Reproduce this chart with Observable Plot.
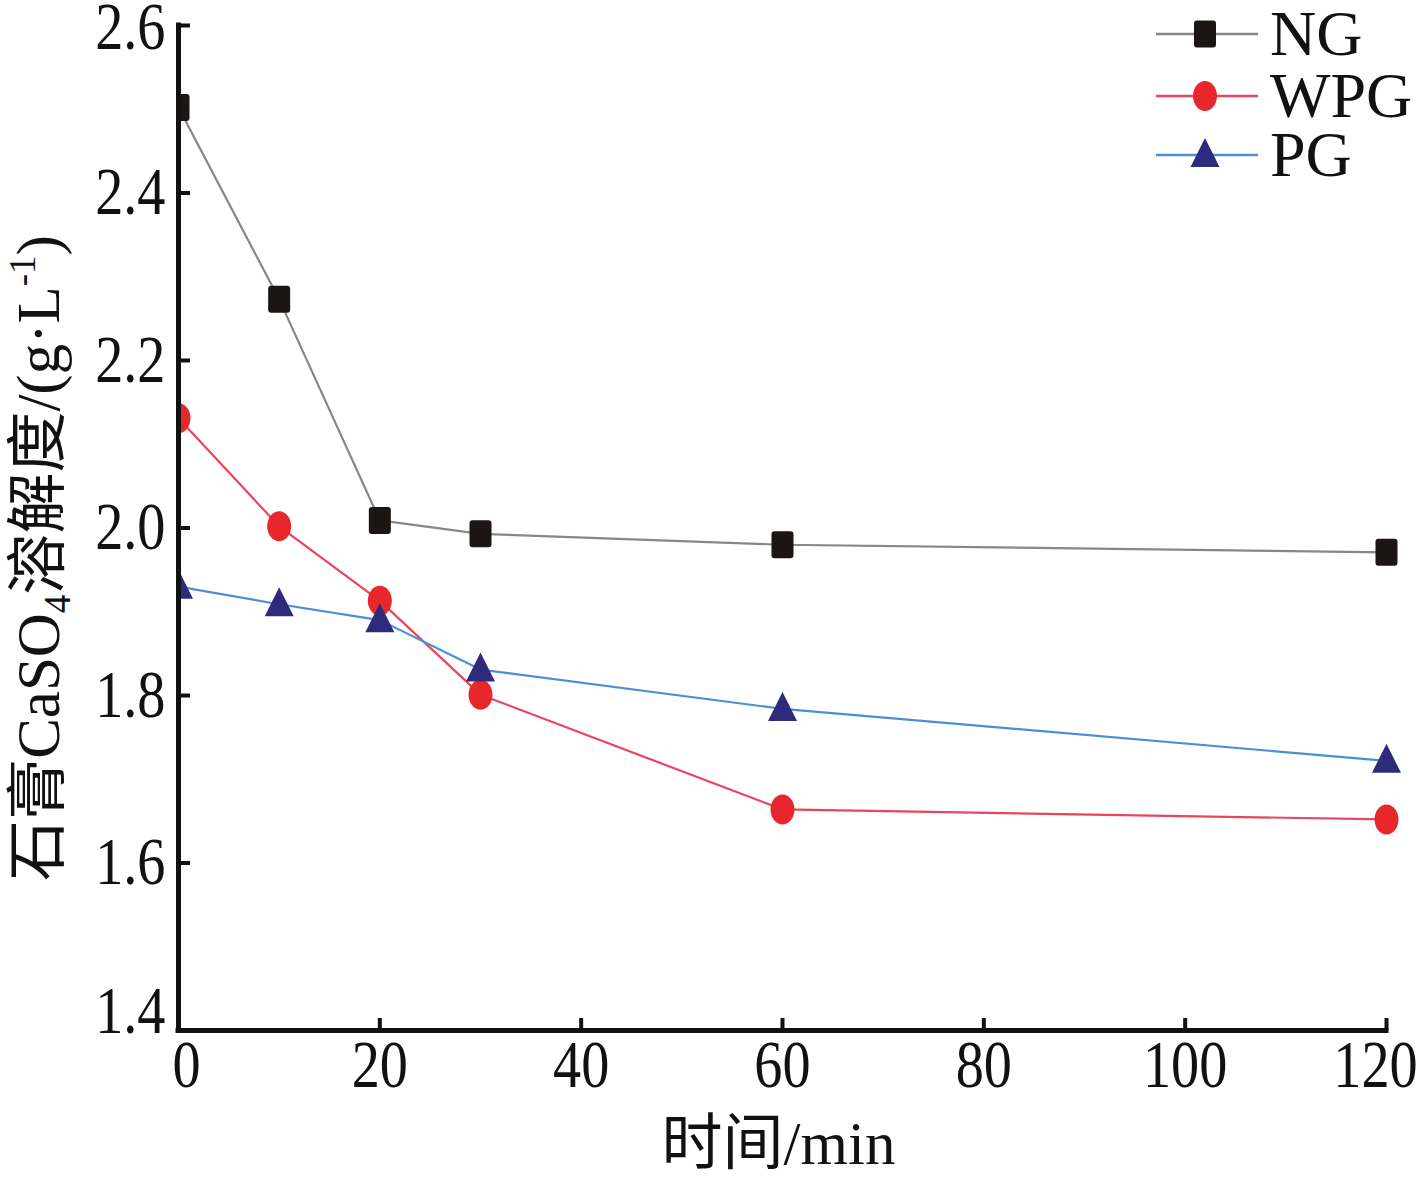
<!DOCTYPE html>
<html><head><meta charset="utf-8">
<script src="https://cdn.jsdelivr.net/npm/d3@7"></script>
<script src="https://cdn.jsdelivr.net/npm/@observablehq/plot@0.6"></script>
<style>
html,body{margin:0;padding:0;background:#fff;}
#wrap{position:relative;width:1417px;height:1181px;}
.row{position:absolute;left:1155px;height:56px;display:flex;align-items:center;}
.row span{display:block;height:56px;overflow:visible;font-family:"Liberation Serif","Times New Roman",serif;font-size:64px;color:#111;margin-left:11px;line-height:56px;}
</style></head><body><div id="wrap"></div>
<script>
// ---- data ----
const times = [0, 10, 20, 30, 60, 120];
const ng  = [2.502, 2.273, 2.009, 1.993, 1.980, 1.971];
const wpg = [2.131, 2.002, 1.913, 1.801, 1.664, 1.652];
const pg  = [1.930, 1.909, 1.890, 1.831, 1.784, 1.722];
const seriesNames = ["NG", "WPG", "PG"];
const seriesValues = [ng, wpg, pg];
const xTicks = [0, 20, 40, 60, 80, 100, 120];
const yTicks = [1.4, 1.6, 1.8, 2.0, 2.2, 2.4, 2.6];
const xTitle = "时间/min";
const yTitle = "石膏CaSO4溶解度/(g·L-1)";

// ---- styles ----
const lineColors = {NG: "#878787", WPG: "#e9455c", PG: "#4a8fd2"};
const markColors = {NG: "#1b1613", WPG: "#e8272c", PG: "#2e2a7c"};
const serif = '"Liberation Serif","Times New Roman","Noto Sans CJK SC",serif';

const squareSym = {draw(ctx) {
  const w = 11, h = 13.5, r = 3;
  ctx.moveTo(-w + r, -h); ctx.lineTo(w - r, -h); ctx.arcTo(w, -h, w, -h + r, r);
  ctx.lineTo(w, h - r); ctx.arcTo(w, h, w - r, h, r);
  ctx.lineTo(-w + r, h); ctx.arcTo(-w, h, -w, h - r, r);
  ctx.lineTo(-w, -h + r); ctx.arcTo(-w, -h, -w + r, -h, r); ctx.closePath();
}};
const ellipseSym = {draw(ctx) {
  const rx = 12, ry = 15, k = 0.5523;
  ctx.moveTo(rx, 0);
  ctx.bezierCurveTo(rx, ry * k, rx * k, ry, 0, ry);
  ctx.bezierCurveTo(-rx * k, ry, -rx, ry * k, -rx, 0);
  ctx.bezierCurveTo(-rx, -ry * k, -rx * k, -ry, 0, -ry);
  ctx.bezierCurveTo(rx * k, -ry, rx, -ry * k, rx, 0);
  ctx.closePath();
}};
const triangleSym = {draw(ctx) {
  ctx.moveTo(0, -17); ctx.lineTo(14.5, 12); ctx.lineTo(-14.5, 12); ctx.closePath();
}};
const symbols = {NG: squareSym, WPG: ellipseSym, PG: triangleSym};

const rows = seriesNames.flatMap((s, i) => times.map((t, j) => ({series: s, time: t, value: seriesValues[i][j]})));

const lineMarks = seriesNames.map(s => Plot.line(rows.filter(d => d.series === s), {x: "time", y: "value", stroke: lineColors[s], strokeWidth: 2.2}));
const dotMarks = seriesNames.map(s => Plot.dot(rows.filter(d => d.series === s), {x: "time", y: "value", symbol: symbols[s], r: 10, fill: markColors[s], stroke: "none"}));

const chart = Plot.plot({
  width: 1417, height: 1181,
  marginLeft: 178, marginRight: 31, marginTop: 25, marginBottom: 151,
  x: {domain: [0, 120]},
  y: {domain: [1.4, 2.6]},
  style: {fontFamily: serif, color: "#111", background: "white"},
  marks: [
    Plot.axisX(xTicks, {tickSize: 12, dy: -12, tickPadding: 9, fontSize: 67, strokeWidth: 4, label: null, tickFormat: d => String(d)}),
    Plot.axisY(yTicks, {tickSize: 12, dx: 12, tickPadding: 13, fontSize: 67, strokeWidth: 4, label: null, tickFormat: d3.format(".1f")}),
    ...lineMarks,
    ...dotMarks,
    Plot.ruleX([0], {stroke: "#111", strokeWidth: 5, strokeLinecap: "square"}),
    Plot.ruleY([1.4], {stroke: "#111", strokeWidth: 5, strokeLinecap: "square"}),
    Plot.text([xTitle], {frameAnchor: "bottom", textAnchor: "middle", dx: -4, dy: 133, fontSize: 61, fill: "#111"}),
    Plot.text([yTitle], {frameAnchor: "left", textAnchor: "middle", rotate: -90, dx: -139, dy: 30, fontSize: 61, fill: "#111"})
  ]
});

const svg = d3.select(chart);

// condensed tick labels, as in the original
svg.selectAll('g[aria-label="x-axis tick label"] text, g[aria-label="y-axis tick label"] text').each(function() {
  const sel = d3.select(this);
  let tr = (sel.attr("transform") || "") + " scale(0.84,1)";
  const t = this.textContent;
  if (t === "0") tr = "translate(8,0) " + tr;
  if (t === "120") tr = "translate(-11,0) " + tr;
  if (t === "1.4") tr = "translate(0,-19) " + tr;
  if (t === "2.6") tr = "translate(0,2) " + tr;
  sel.attr("transform", tr);
});

// clip markers at the left axis (as in the original)
const x0 = chart.scale("x").apply(0);
const defs = svg.insert("defs", ":first-child");
defs.append("clipPath").attr("id", "clipLeft").append("rect")
  .attr("x", x0).attr("y", 0).attr("width", 1417 - x0).attr("height", 1181);
svg.selectAll('g[aria-label="dot"]').attr("clip-path", "url(#clipLeft)");

// subscript / superscript in the y title
svg.selectAll("text").each(function() {
  if (this.textContent === yTitle) {
    this.innerHTML = '石膏CaSO<tspan font-size="37" dy="11">4</tspan><tspan dy="-11">溶解度/(g·L</tspan><tspan font-size="37" dy="-24">-1</tspan><tspan dy="24">)</tspan>';
  }
});

const wrap = document.getElementById("wrap");
wrap.appendChild(chart);

// legend
const legendCenters = [34, 96, 155];
seriesNames.forEach((s, i) => {
  const row = document.createElement("div");
  row.className = "row";
  row.style.top = (legendCenters[i] - 28) + "px";
  const sw = d3.create("svg").attr("width", 104).attr("height", 56);
  sw.append("line").attr("x1", 1).attr("x2", 103).attr("y1", 28).attr("y2", 28)
    .attr("stroke", lineColors[s]).attr("stroke-width", 2.5);
  sw.append("path").attr("d", d3.symbol().type(symbols[s])()).attr("transform", "translate(50,28)")
    .attr("fill", markColors[s]);
  row.appendChild(sw.node());
  const t = document.createElement("span");
  t.textContent = s;
  row.appendChild(t);
  wrap.appendChild(row);
});
</script></body></html>
